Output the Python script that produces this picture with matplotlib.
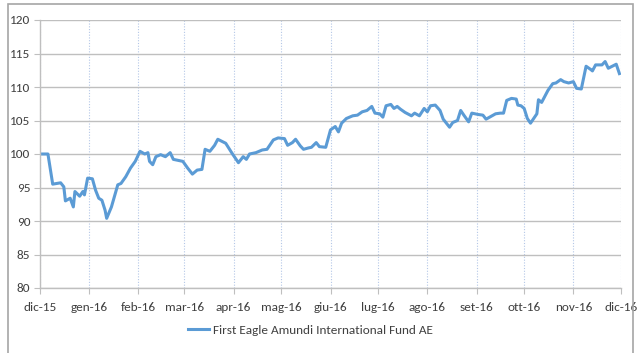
import numpy as np
import matplotlib
matplotlib.use("Agg")
import matplotlib.pyplot as plt
import matplotlib.dates as mdates
from matplotlib.patches import Rectangle

plt.rcParams['font.family'] = ['Carlito', 'DejaVu Sans']

# data
dates = np.array([
    '2015-12-01', '2015-12-06', '2015-12-09', '2015-12-14', '2015-12-16',
    '2015-12-17', '2015-12-20', '2015-12-22', '2015-12-23', '2015-12-26',
    '2015-12-28', '2015-12-29', '2015-12-31', '2016-01-03', '2016-01-05',
    '2016-01-07', '2016-01-09', '2016-01-11', '2016-01-12', '2016-01-15',
    '2016-01-19', '2016-01-21', '2016-01-24', '2016-01-27', '2016-01-30',
    '2016-02-02', '2016-02-05', '2016-02-07', '2016-02-08', '2016-02-10',
    '2016-02-12', '2016-02-15', '2016-02-18', '2016-02-21', '2016-02-23',
    '2016-02-29', '2016-03-03', '2016-03-06', '2016-03-09', '2016-03-12',
    '2016-03-14', '2016-03-17', '2016-03-20', '2016-03-22', '2016-03-27',
    '2016-03-31', '2016-04-04', '2016-04-07', '2016-04-09', '2016-04-11',
    '2016-04-15', '2016-04-19', '2016-04-22', '2016-04-26', '2016-04-29',
    '2016-05-03', '2016-05-05', '2016-05-08', '2016-05-10', '2016-05-13',
    '2016-05-15', '2016-05-18', '2016-05-20', '2016-05-23', '2016-05-25',
    '2016-05-29', '2016-06-01', '2016-06-04', '2016-06-06', '2016-06-08',
    '2016-06-11', '2016-06-15', '2016-06-18', '2016-06-21', '2016-06-24',
    '2016-06-27', '2016-06-29', '2016-07-02', '2016-07-04', '2016-07-06',
    '2016-07-09', '2016-07-11', '2016-07-13', '2016-07-15', '2016-07-18',
    '2016-07-22', '2016-07-24', '2016-07-27', '2016-07-30', '2016-08-01',
    '2016-08-03', '2016-08-06', '2016-08-09', '2016-08-11', '2016-08-15',
    '2016-08-17', '2016-08-20', '2016-08-22', '2016-08-24', '2016-08-27',
    '2016-08-29', '2016-09-02', '2016-09-05', '2016-09-07', '2016-09-10',
    '2016-09-13', '2016-09-16', '2016-09-18', '2016-09-20', '2016-09-23',
    '2016-09-26', '2016-09-27', '2016-09-29', '2016-10-01', '2016-10-03',
    '2016-10-05', '2016-10-09', '2016-10-10', '2016-10-12', '2016-10-16',
    '2016-10-19', '2016-10-21', '2016-10-24', '2016-10-26', '2016-10-29',
    '2016-11-01', '2016-11-03', '2016-11-06', '2016-11-09', '2016-11-12',
    '2016-11-13', '2016-11-15', '2016-11-19', '2016-11-21', '2016-11-23',
    '2016-11-28', '2016-11-30'], dtype='datetime64[D]')

values = [
    100.0, 100.0, 95.5, 95.7, 95.1,
    93.0, 93.4, 92.1, 94.4, 93.7,
    94.4, 93.9, 96.4, 96.3, 94.6,
    93.4, 93.1, 91.6, 90.4, 92.1,
    95.4, 95.6, 96.6, 97.9, 98.9,
    100.4, 100.0, 100.2, 98.9, 98.4,
    99.6, 99.9, 99.6, 100.2, 99.2,
    98.9, 97.9, 97.0, 97.6, 97.7,
    100.7, 100.4, 101.3, 102.2, 101.6,
    100.1, 98.7, 99.6, 99.2, 100.0,
    100.2, 100.6, 100.7, 102.1, 102.4,
    102.3, 101.3, 101.7, 102.2, 101.2,
    100.7, 100.9, 101.0, 101.7, 101.1,
    101.0, 103.6, 104.1, 103.3, 104.6,
    105.3, 105.7, 105.8, 106.3, 106.5,
    107.1, 106.1, 106.0, 105.5, 107.2,
    107.4, 106.8, 107.1, 106.7, 106.2,
    105.7, 106.1, 105.7, 106.8, 106.3,
    107.2, 107.3, 106.5, 105.2, 104.0,
    104.7, 105.0, 106.5, 105.8, 104.8,
    106.1, 105.9, 105.8, 105.2, 105.6,
    106.0, 106.1, 106.1, 108.0, 108.3,
    108.2, 107.3, 107.2, 106.8, 105.3,
    104.6, 106.0, 108.1, 107.7, 109.5,
    110.5, 110.6, 111.1, 110.8, 110.6,
    110.8, 109.8, 109.7, 113.1, 112.6,
    112.4, 113.3, 113.3, 113.8, 112.8,
    113.4, 112.0]

month_labels = ['dic-15', 'gen-16', 'feb-16', 'mar-16', 'apr-16', 'mag-16', 'giu-16',
                'lug-16', 'ago-16', 'set-16', 'ott-16', 'nov-16', 'dic-16']
series_name = 'First Eagle Amundi International Fund AE'

fig = plt.figure(figsize=(6.4, 3.53), dpi=100)
ax = fig.add_axes([40/640, 1-288/353, 581/640, 268/353])

# grey frame around the chart area like the screenshot
fig.patches.append(Rectangle((8/640, -0.01), 625/640, 1 - 4/353 + 0.01,
                             transform=fig.transFigure, fill=False,
                             edgecolor='#a6a6a6', lw=1.2))

ax.plot(dates.astype('datetime64[ms]').astype(object), values, color='#5b9bd5', lw=2.2,
        label=series_name, solid_joinstyle='round')

month_ticks = np.arange(np.datetime64('2015-12'), np.datetime64('2017-01'),
                        dtype='datetime64[M]').astype('datetime64[D]')
tick_pos = mdates.date2num(month_ticks.astype('datetime64[ms]').astype(object))
ax.set_xlim(tick_pos[0], tick_pos[-1])
ax.set_xticks(tick_pos)
ax.set_xticklabels(month_labels)
ax.set_ylim(80, 120)
ax.set_yticks(np.arange(80, 121, 5))

ax.grid(axis='y', color='#bfbfbf', lw=1.0)
ax.grid(axis='x', color='#b4c7e7', lw=0.8, linestyle=(0, (1, 1.5)))
ax.set_axisbelow(True)

for side in ['top', 'right']:
    ax.spines[side].set_visible(False)
for side in ['left', 'bottom']:
    ax.spines[side].set_color('#bfbfbf')
    ax.spines[side].set_linewidth(1.0)

ax.tick_params(axis='both', colors='#bfbfbf', labelcolor='#404040', labelsize=9.5, length=4)
ax.tick_params(axis='x', pad=6)
ax.tick_params(axis='y', pad=3)

fig.legend(loc='center', bbox_to_anchor=(0.485, 1-330/353), frameon=False,
           fontsize=9.5, handlelength=1.6, handletextpad=0.3, labelcolor='#404040')

fig.savefig('out.png', dpi=100)
